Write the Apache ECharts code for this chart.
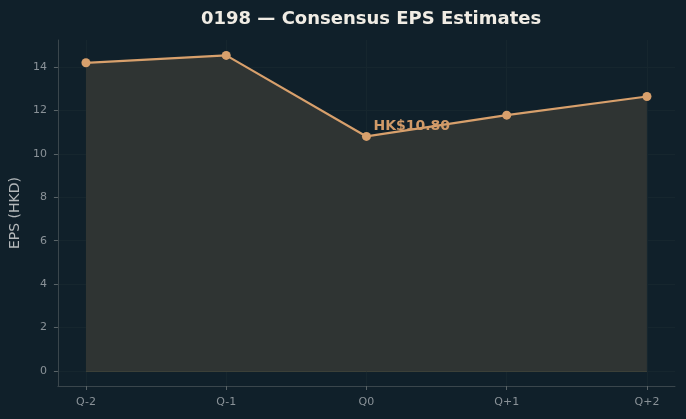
<!DOCTYPE html>
<html><head><meta charset="utf-8">
<script src="https://cdn.jsdelivr.net/npm/echarts@6/dist/echarts.min.js"></script>
<style>html,body{margin:0;padding:0;background:#10202a;}#c{width:686px;height:419px;}</style>
</head><body><div id="c"></div>
<script>
const categories = ['Q-2', 'Q-1', 'Q0', 'Q+1', 'Q+2'];
const epsValues = [14.19, 14.53, 10.80, 11.78, 12.64];
const yTicks = [0, 2, 4, 6, 8, 10, 12, 14];
const annotationText = 'HK$10.80';
const annotatedIndex = 2;

const xIdx = categories.map((c, i) => i);
const data = epsValues.map((v, i) => {
  const item = { value: [i, v] };
  if (i === annotatedIndex) {
    item.label = {
      show: true, formatter: annotationText, position: [11.5, -5.5],
      verticalAlign: 'middle', align: 'left',
      color: '#d09a68', fontWeight: 'bold', fontSize: 14, fontFamily: 'DejaVu Sans'
    };
  }
  return item;
});

const chart = echarts.init(document.getElementById('c'), null, { renderer: 'canvas' });
chart.setOption({
  backgroundColor: '#10202a',
  animation: false,
  title: {
    text: '0198 — Consensus EPS Estimates', left: 196, top: 5,
    textStyle: { color: '#f0ece4', fontSize: 18, fontWeight: 'bold', fontFamily: 'DejaVu Sans' }
  },
  grid: { left: 57, right: 11, top: 40, bottom: 33, containLabel: false },
  xAxis: {
    type: 'value', min: -0.2, max: 4.2,
    axisLine: { show: true, onZero: false, lineStyle: { color: '#3a464c', width: 1 } },
    axisTick: { show: true, length: 4, customValues: xIdx, lineStyle: { color: '#5a6468' } },
    axisLabel: { customValues: xIdx, formatter: v => categories[Math.round(v)], color: '#8a9298', fontSize: 11, margin: 11, fontFamily: 'DejaVu Sans' },
    splitLine: { show: true, lineStyle: { color: '#16262e', width: 1 } }
  },
  yAxis: {
    type: 'value', min: -0.69, max: 15.24,
    name: 'EPS (HKD)', nameLocation: 'middle', nameGap: 29, nameRotate: 90,
    nameTextStyle: { color: '#b4b8ba', fontSize: 14, fontFamily: 'DejaVu Sans' },
    axisLine: { show: true, onZero: false, lineStyle: { color: '#3a464c', width: 1 } },
    axisTick: { show: true, length: 4, customValues: yTicks, lineStyle: { color: '#5a6468' } },
    axisLabel: { customValues: yTicks, color: '#8a9298', fontSize: 11, margin: 11, fontFamily: 'DejaVu Sans' },
    splitLine: { show: true, lineStyle: { color: '#16262e', width: 1 } }
  },
  series: [{
    type: 'line', data: data,
    symbol: 'circle', symbolSize: 9,
    itemStyle: { color: '#d8a06c' },
    lineStyle: { color: '#d8a06c', width: 2.2 },
    areaStyle: { color: '#2f3433', opacity: 1, origin: 0 },
    markLine: {
      silent: true, symbol: 'none', label: { show: false },
      lineStyle: { color: '#3c4038', width: 1, type: 'solid' },
      data: [[{ coord: [0, 0] }, { coord: [categories.length - 1, 0] }]]
    },
    z: 3
  }]
});
</script></body></html>
